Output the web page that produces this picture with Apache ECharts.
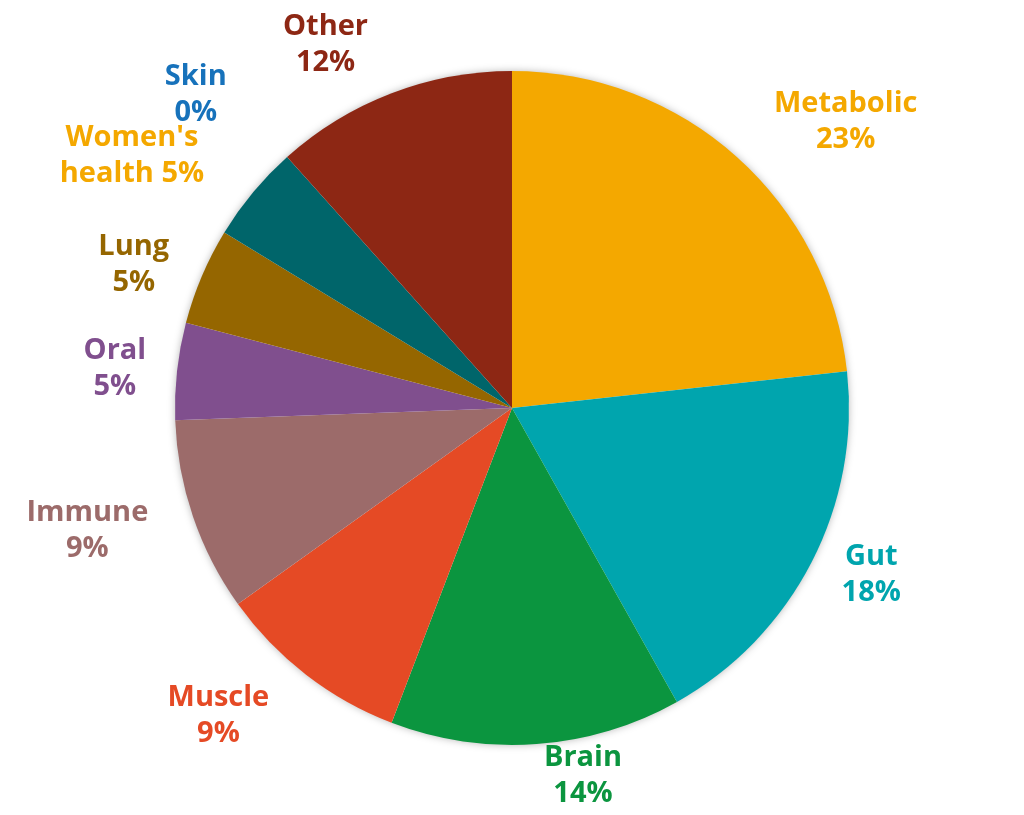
<!DOCTYPE html>
<html>
<head>
<meta charset="utf-8">
<script src="https://cdn.jsdelivr.net/npm/echarts@6/dist/echarts.min.js"></script>
<style>
  html, body { margin: 0; padding: 0; background: #fff; }
  #chart { width: 1024px; height: 815px; }
</style>
</head>
<body>
<div id="chart"></div>
<script>
// counts per research area (labels show rounded shares)
const categories = ['Metabolic', 'Gut', 'Brain', 'Muscle', 'Immune', 'Oral', 'Lung', "Women's health", 'Skin', 'Other'];
const counts = [10, 8, 6, 4, 4, 2, 2, 2, 0, 5];
const sliceColors = ['#f4a800', '#00a5ae', '#0b953f', '#e54a25', '#9c6b6a', '#804f8e', '#956600', '#00656a', '#1772bb', '#8d2714'];
const labelColors = ['#f4a800', '#00a5ae', '#0b953f', '#e54a25', '#9c6b6a', '#804f8e', '#956600', '#f4a800', '#1772bb', '#8d2714'];

// distance of each label from the rim
const labelGap = [48, 28, 32, 52, 42, 26, 30, 57, 83, 52];

const chart = echarts.init(document.getElementById('chart'));

const font = { fontFamily: 'Open Sans', fontWeight: 'bold', fontSize: 29, lineHeight: 36 };

const option = {
    animation: false,
    series: [
        {
            // soft shadow behind the pie
            type: 'pie',
            silent: true,
            z: 1,
            center: [512, 408],
            radius: 336,
            label: { show: false },
            itemStyle: { color: '#fff', shadowBlur: 8, shadowColor: 'rgba(0,0,0,0.35)' },
            data: [{ value: 1 }]
        },
        {
            type: 'pie',
            z: 2,
            center: [512, 408],
            radius: 337,
            startAngle: 90,
            clockwise: true,
            percentPrecision: 0,
            avoidLabelOverlap: false,
            labelLayout: { hideOverlap: false },
            labelLine: { show: false, length: 30, length2: 0 },
            label: Object.assign({
                position: 'outside',
                formatter: function (p) {
                    const sp = p.name.indexOf(' ');
                    const line = sp > 0
                        ? p.name.slice(0, sp) + '}\n{c|' + p.name.slice(sp + 1) + ' ' + p.percent + '%'
                        : p.name + '}\n{c|' + p.percent + '%';
                    return '{c|' + line + '}';
                },
                rich: {
                    c: Object.assign({ align: 'center' }, font)
                }
            }, font),
            data: categories.map((name, i) => ({
                name: name,
                value: counts[i],
                itemStyle: { color: sliceColors[i] },
                label: { color: labelColors[i] },
                labelLine: { length: labelGap[i] }
            }))
        }
    ]
};

chart.setOption(option);
</script>
</body>
</html>
